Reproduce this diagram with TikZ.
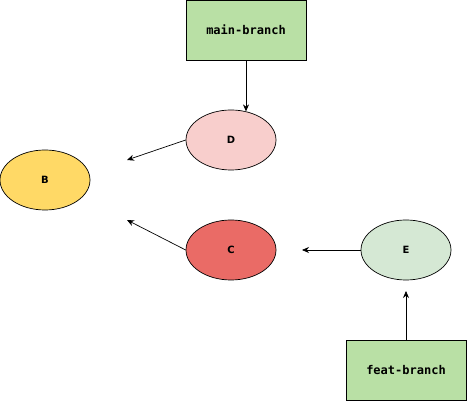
\documentclass[tikz,border=0pt]{standalone}
\usepackage{xcolor}
\usepackage{tikz}
\usetikzlibrary{arrows.meta,shapes.geometric}
\usepackage{fontspec}
\setmainfont{DejaVu Sans}
\setmonofont{DejaVu Sans Mono}
\definecolor{gitgreen}{HTML}{B9E0A5}
\definecolor{gitpink}{HTML}{F8CECC}
\definecolor{gityellow}{HTML}{FFD966}
\definecolor{gitred}{HTML}{EA6B66}
\definecolor{gitmint}{HTML}{D5E8D4}

\begin{document}
\begin{tikzpicture}[x=1pt,y=-1pt,
  branchbox/.style={draw,fill=gitgreen,line width=0.7pt,minimum width=120pt,minimum height=60pt,inner sep=0pt,font=\ttfamily\bfseries\fontsize{12}{14}\selectfont},
  commit/.style={draw,ellipse,line width=0.7pt,minimum width=90pt,minimum height=60pt,inner sep=0pt,font=\bfseries\fontsize{10}{12}\selectfont},
  arr/.style={-{Stealth[length=7pt,width=6pt]},line width=0.7pt}]
  \useasboundingbox (0,0) rectangle (467,401);
  \node[branchbox] (mainbr) at (246,30) {main-branch};
  \node[branchbox] (featbr) at (406,370) {feat-branch};
  \node[commit,fill=gitpink] (D) at (231,140) {D};
  \node[commit,fill=gityellow] (B) at (45,180) {B};
  \node[commit,fill=gitred] (C) at (231,250) {C};
  \node[commit,fill=gitmint] (E) at (406,250) {E};
  \coordinate (dend) at (127,160);
  \coordinate (cend) at (127,220);
  \coordinate (eend) at (302,250);
  \coordinate (fend) at (406,291);
  \draw[arr] (mainbr.south) -- (mainbr.south |- D.62);
  \draw[arr] (D.west) -- (dend);
  \draw[arr] (C.west) -- (cend);
  \draw[arr] (E.west) -- (eend);
  \draw[arr] (featbr.north) -- (fend);
\end{tikzpicture}
\end{document}
